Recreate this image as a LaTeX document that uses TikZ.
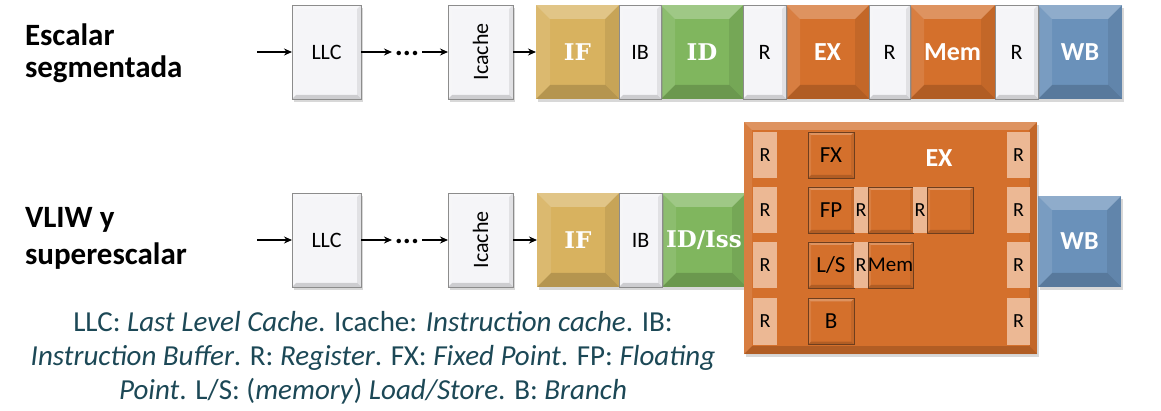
\documentclass[tikz,border=0pt]{standalone}
\usepackage{fontspec}
\setmainfont{Carlito}
\newfontfamily\slabfont{DejaVu Serif}
\usetikzlibrary{arrows.meta,shadows}
\definecolor{cgold}{RGB}{216,178,95}
\definecolor{cgreen}{RGB}{128,182,94}
\definecolor{corange}{RGB}{212,112,44}
\definecolor{cblue}{RGB}{106,145,186}
\definecolor{cwhite}{RGB}{245,245,248}
\definecolor{cborder}{RGB}{140,140,140}
\definecolor{cpeach}{RGB}{236,184,148}
\definecolor{cbrown}{RGB}{110,62,30}
\definecolor{ccap}{RGB}{28,72,86}
\tikzset{
  every node/.style={inner sep=0pt, outer sep=0pt},
  bev/.style={path picture={
    \fill[white,opacity=.25] (path picture bounding box.north west) -- (path picture bounding box.north east)
      -- ([xshift=-#1,yshift=-#1]path picture bounding box.north east) -- ([xshift=#1,yshift=-#1]path picture bounding box.north west) -- cycle;
    \fill[white,opacity=.10] (path picture bounding box.north west) -- (path picture bounding box.south west)
      -- ([xshift=#1,yshift=#1]path picture bounding box.south west) -- ([xshift=#1,yshift=-#1]path picture bounding box.north west) -- cycle;
    \fill[black,opacity=.08] (path picture bounding box.north east) -- (path picture bounding box.south east)
      -- ([xshift=-#1,yshift=#1]path picture bounding box.south east) -- ([xshift=-#1,yshift=-#1]path picture bounding box.north east) -- cycle;
    \fill[black,opacity=.16] (path picture bounding box.south west) -- (path picture bounding box.south east)
      -- ([xshift=-#1,yshift=#1]path picture bounding box.south east) -- ([xshift=#1,yshift=#1]path picture bounding box.south west) -- cycle;
  }},
  shad/.style={drop shadow={shadow xshift=2pt, shadow yshift=-3pt, opacity=.3}},
  wbox/.style={draw=cborder, line width=0.9pt, fill=cwhite, bev=4pt, shad, minimum height=94pt,
    font=\fontsize{22}{22}\selectfont},
  stage/.style={fill=#1, bev=14pt, shad, minimum height=94pt, text=white,
    font=\bfseries\fontsize{26}{26}\selectfont},
  slab/.style={font=\slabfont\bfseries\fontsize{23}{23}\selectfont},
  ibox/.style={draw=cbrown, line width=0.8pt, fill=corange, bev=3pt, minimum height=46pt,
    font=\fontsize{23}{23}\selectfont},
  rbox/.style={fill=cpeach, minimum height=46pt, font=\fontsize{20}{20}\selectfont},
  arr/.style={-{Stealth[length=8pt,width=7pt]}, line width=1.8pt},
  dotsnode/.style={font=\bfseries\fontsize{30}{30}\selectfont, outer sep=3pt},
  side/.style={anchor=base west, font=\bfseries\fontsize{31}{31}\selectfont},
  capline/.style={anchor=base, text=ccap, font=\fontsize{29}{34}\selectfont},
}
\begin{document}
\begin{tikzpicture}[x=1pt,y=-1pt]
\useasboundingbox[fill=white] (0,0) rectangle (1161,411);

% ---- labels
\node[side] (t1a) at (25,46) {Escalar};
\node[side] (t1b) at (25,78) {segmentada};
\node[side] (t2a) at (25,228) {VLIW y};
\node[side] (t2b) at (25,265) {superescalar};

% ---- top row
\node[wbox, minimum width=69pt] (llc1) at (326.5,52) {LLC};
\node[dotsnode] (d1) at (407,53) {...};
\node[wbox, minimum width=65pt] (ic1) at (480.5,52) {\rotatebox{90}{Icache}};
\node[stage=cgold, minimum width=83pt, slab] (if1) at (577.5,52) {IF};
\node[stage=cgreen, minimum width=82pt, slab] (id1) at (702,52) {ID};
\node[stage=corange, minimum width=83pt] (ex1) at (827.5,52) {EX};
\node[stage=corange, minimum width=85pt] (mem1) at (952.5,52) {Mem};
\node[stage=cblue, minimum width=84pt] (wb1) at (1080,52) {WB};
\node[wbox, minimum width=42pt] (ib1) at (640,52) {IB};
\node[wbox, minimum width=43pt] (r1a) at (764.5,52) {R};
\node[wbox, minimum width=41pt] (r1b) at (889.5,52) {R};
\node[wbox, minimum width=43pt] (r1c) at (1016.5,52) {R};

\coordinate (s1) at (257,52);
\draw[arr] (s1) -- (llc1.west);
\draw[arr] (llc1.east) -- (llc1.east -| d1.west);
\draw[arr] (ic1.west -| d1.east) -- (ic1.west);
\draw[arr] (ic1.east) -- (if1.west);

% ---- bottom row
\node[wbox, minimum width=69pt] (llc2) at (326.5,240) {LLC};
\node[dotsnode] (d2) at (407,241) {...};
\node[wbox, minimum width=65pt] (ic2) at (480.5,240) {\rotatebox{90}{Icache}};
\node[stage=cgold, minimum width=82pt, slab] (if2) at (578,240) {IF};
\node[stage=cgreen, minimum width=84pt, slab] (id2) at (704,240) {ID/Iss};
\node[wbox, minimum width=43pt] (ib2) at (640.5,240) {IB};
\node[stage=cblue, minimum width=83pt, minimum height=91pt] (wb2) at (1079.5,241.5) {WB};

\coordinate (s2) at (257,240);
\draw[arr] (s2) -- (llc2.west);
\draw[arr] (llc2.east) -- (llc2.east -| d2.west);
\draw[arr] (ic2.west -| d2.east) -- (ic2.west);
\draw[arr] (ic2.east) -- (if2.west);

% ---- big EX box
\node[fill=corange, bev=8pt, shad, minimum width=293pt, minimum height=232pt] (exb) at (890.5,238) {};
\node[text=white, font=\bfseries\fontsize{26}{26}\selectfont] (exl) at (939,158) {EX};

\foreach \yy/\nn in {155/1,210/2,265/3,321.5/4}{
  \node[rbox, minimum width=24pt] (rl\nn) at (765,\yy) {R};
  \node[rbox, minimum width=23pt] (rr\nn) at (1018.5,\yy) {R};
}
\node[ibox, minimum width=46pt] (fx) at (831,155) {FX};
\node[ibox, minimum width=46pt] (fp) at (831,210) {FP};
\node[rbox, minimum width=14pt] (rfp1) at (861,210) {R};
\node[ibox, minimum width=45pt] (fp2) at (890.5,210) {};
\node[rbox, minimum width=14pt] (rfp2) at (920,210) {R};
\node[ibox, minimum width=46pt] (fp3) at (950,210) {};
\node[ibox, minimum width=46pt] (ls) at (831,265) {L/S};
\node[rbox, minimum width=14pt] (rls) at (861,265) {R};
\node[ibox, minimum width=45pt, font=\fontsize{21}{21}\selectfont] (mem2) at (890.5,265) {Mem};
\node[ibox, minimum width=46pt] (br) at (831,321.5) {B};

% ---- caption
\node[capline] (c1) at (373,331) {LLC: \textit{Last Level Cache}. Icache: \textit{Instruction cache}. IB:};
\node[capline] (c2) at (373,365) {\textit{Instruction Buffer}. R: \textit{Register}. FX: \textit{Fixed Point}. FP: \textit{Floating}};
\node[capline] (c3) at (373,399) {\textit{Point}. L/S: (\textit{memory}) \textit{Load/Store}. B: \textit{Branch}};
\end{tikzpicture}
\end{document}
